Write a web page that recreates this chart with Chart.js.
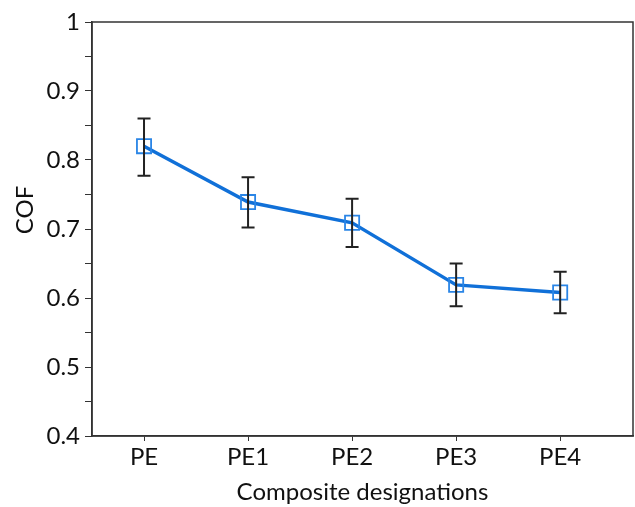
<!DOCTYPE html>
<html>
<head>
<meta charset="utf-8">
<script src="https://cdn.jsdelivr.net/npm/chart.js@4/dist/chart.umd.min.js"></script>
<style>
  html, body { margin: 0; padding: 0; background: #fff; }
  #wrap { width: 635px; height: 507px; }
</style>
</head>
<body>
<div id="wrap"><canvas id="cofChart"></canvas></div>
<script>
// chart values
const categories = ['PE', 'PE1', 'PE2', 'PE3', 'PE4'];
const cofMean = [0.82, 0.739, 0.709, 0.619, 0.608];
const cofLow = [0.777, 0.702, 0.674, 0.588, 0.578];
const cofHigh = [0.86, 0.775, 0.744, 0.65, 0.638];
const yTicks = [0.4, 0.5, 0.6, 0.7, 0.8, 0.9, 1];

const axisColor = '#333';
const textColor = '#111';
const fontFamily = "Lato, 'Open Sans', sans-serif";
const fontSize = 24;

// error bars, closed frame, and the y title
const extras = {
  id: 'extras',
  afterDatasetsDraw(chart) {
    const { ctx, scales: { x, y } } = chart;
    ctx.save();
    ctx.strokeStyle = '#222';
    ctx.lineWidth = 2;
    cofMean.forEach((v, i) => {
      const px = x.getPixelForValue(i);
      const top = y.getPixelForValue(cofHigh[i]);
      const bot = y.getPixelForValue(cofLow[i]);
      ctx.beginPath();
      ctx.moveTo(px, top); ctx.lineTo(px, bot);
      ctx.moveTo(px - 6.5, top); ctx.lineTo(px + 6.5, top);
      ctx.moveTo(px - 6.5, bot); ctx.lineTo(px + 6.5, bot);
      ctx.stroke();
    });
    ctx.restore();
  },
  afterDraw(chart) {
    const { ctx, chartArea: a } = chart;
    ctx.save();
    ctx.strokeStyle = axisColor;
    ctx.lineWidth = 1.5;
    ctx.strokeRect(a.left, a.top, a.right - a.left, a.bottom - a.top);
    // y axis title
    ctx.translate(25, 210);
    ctx.rotate(-Math.PI / 2);
    ctx.fillStyle = textColor;
    ctx.font = fontSize + 'px ' + fontFamily;
    ctx.textAlign = 'center';
    ctx.textBaseline = 'middle';
    ctx.fillText('COF', 0, 0);
    ctx.restore();
  }
};

new Chart(document.getElementById('cofChart'), {
  type: 'line',
  data: {
    datasets: [{
      data: cofMean.map((v, i) => ({ x: i, y: v })),
      borderColor: '#1070d8',
      borderWidth: 3.5,
      pointStyle: 'rect',
      pointRadius: 10,
      pointBorderWidth: 1.8,
      pointBorderColor: '#2a85e6',
      pointBackgroundColor: 'rgba(255,255,255,0)',
      tension: 0
    }]
  },
  options: {
    responsive: true,
    maintainAspectRatio: false,
    animation: false,
    layout: { autoPadding: false, padding: { top: 22, right: 2, left: 0, bottom: 0 } },
    plugins: { legend: { display: false }, tooltip: { enabled: false } },
    scales: {
      x: {
        type: 'linear',
        min: -0.5,
        max: 4.7,
        afterBuildTicks(scale) {
          scale.ticks = categories.map((c, i) => ({ value: i }));
        },
        afterFit(scale) {
          scale.height = 71;
          scale.paddingLeft = 0;
          scale.paddingRight = 0;
        },
        grid: { drawOnChartArea: false, drawTicks: true, tickLength: 5, color: axisColor, lineWidth: 1 },
        border: { display: true, color: axisColor, width: 1.5 },
        ticks: {
          color: textColor,
          padding: 2,
          font: { family: fontFamily, size: fontSize },
          callback: v => categories[v] ?? ''
        },
        title: {
          display: true,
          text: 'Composite designations',
          color: textColor,
          padding: { top: 0, bottom: 0 },
          font: { family: fontFamily, size: fontSize }
        }
      },
      y: {
        min: 0.4,
        max: 1,
        afterBuildTicks(scale) {
          const t = [];
          for (let k = 0; k <= 12; k++) t.push({ value: Math.round((0.4 + k * 0.05) * 100) / 100 });
          scale.ticks = t;
        },
        afterFit(scale) { scale.width = 92; },
        grid: { drawOnChartArea: false, drawTicks: true, tickLength: 7, color: axisColor, lineWidth: 1 },
        border: { display: true, color: axisColor, width: 1.5 },
        ticks: {
          color: textColor,
          padding: 5,
          font: { family: fontFamily, size: fontSize },
          callback: v => yTicks.some(t => Math.abs(t - v) < 1e-6) ? String(v) : ''
        }
      }
    }
  },
  plugins: [extras]
});
</script>
</body>
</html>
